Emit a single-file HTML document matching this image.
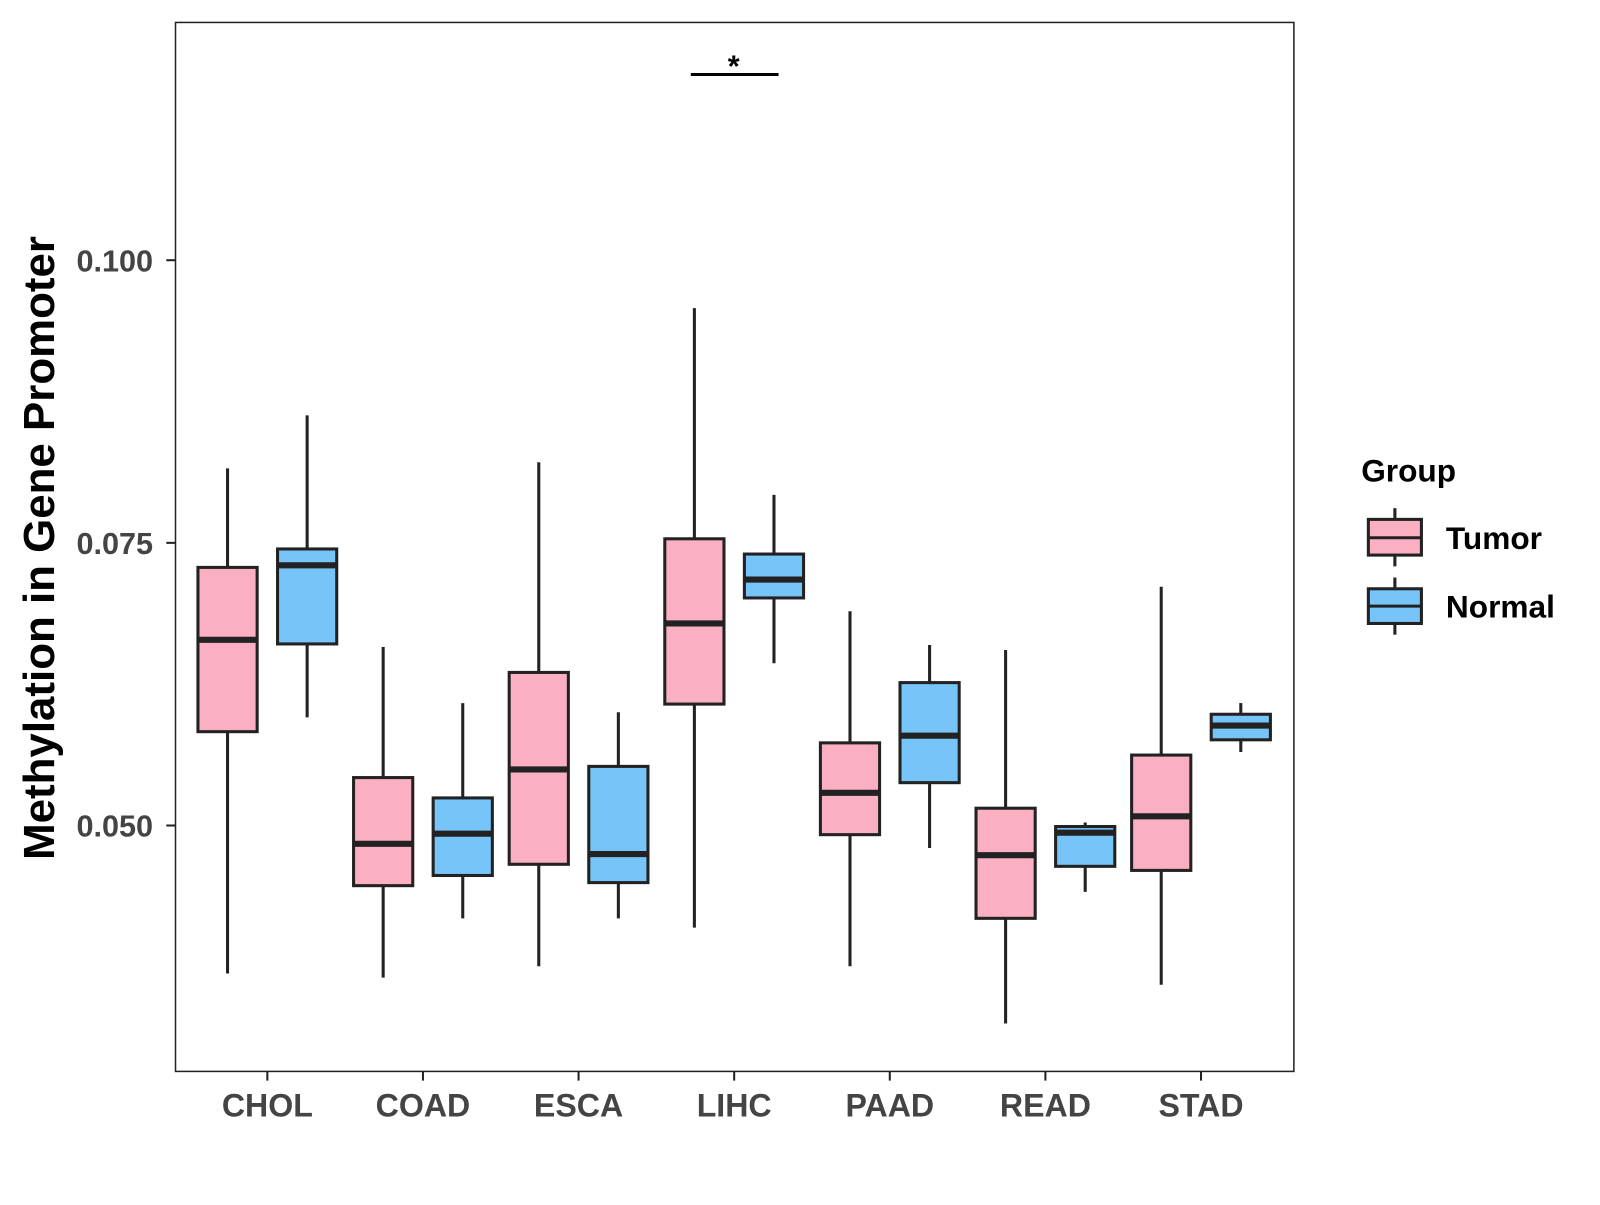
<!DOCTYPE html>
<html><head><meta charset="utf-8"><style>
body{margin:0;background:#fff}
svg text{font-family:"Liberation Sans",Arial,sans-serif;font-weight:bold}
</style></head><body>
<svg id="chart" width="1600" height="1200" xmlns="http://www.w3.org/2000/svg">
<rect x="0" y="0" width="1600" height="1200" fill="#fff"/>
<g transform="scale(1.0204)">
<rect x="172" y="22" width="1096" height="1028" fill="none" stroke="#222" stroke-width="1.5"/>
<g id="boxes"></g>
<g id="axes"></g>
<text transform="translate(53,537) rotate(-90)" text-anchor="middle" font-size="43" fill="#000">Methylation in Gene Promoter</text>
<g>
<line x1="677" y1="73" x2="763" y2="73" stroke="#000" stroke-width="3"/>
<text x="719" y="75" text-anchor="middle" font-size="30" fill="#000">*</text>
</g>
<g>
<text x="1334" y="472" font-size="31" fill="#000">Group</text>
<g>
<line x1="1367" y1="498" x2="1367" y2="555" stroke="#222" stroke-width="3"/>
<rect x="1341" y="509" width="52" height="35" fill="#FAB0C2" stroke="#222" stroke-width="3"/>
<line x1="1341" y1="527" x2="1393" y2="527" stroke="#222" stroke-width="3"/>
<text x="1417" y="538" font-size="31" fill="#000">Tumor</text>
</g>
<g>
<line x1="1367" y1="566" x2="1367" y2="622" stroke="#222" stroke-width="3"/>
<rect x="1341" y="577" width="52" height="34" fill="#76C4F8" stroke="#222" stroke-width="3"/>
<line x1="1341" y1="594" x2="1393" y2="594" stroke="#222" stroke-width="3"/>
<text x="1417" y="605" font-size="31" fill="#000">Normal</text>
</g>
</g>
</g>
</svg>
<script>
const categories=["CHOL","COAD","ESCA","LIHC","PAAD","READ","STAD"];
// [low, q1, median, q3, high]
const tumorStats=[
[0.03691,0.05830,0.06643,0.07283,0.08159],
[0.03655,0.04468,0.04838,0.05424,0.06579],
[0.03755,0.04657,0.05496,0.06354,0.08213],
[0.04097,0.06074,0.06787,0.07536,0.09576],
[0.03755,0.04919,0.05289,0.05731,0.06895],
[0.03249,0.04179,0.04738,0.05153,0.06552],
[0.03592,0.04603,0.05081,0.05623,0.07112]];
const normalStats=[
[0.05957,0.06606,0.07301,0.07446,0.08628],
[0.04179,0.04558,0.04928,0.05244,0.06083],
[0.04179,0.04495,0.04747,0.05523,0.06002],
[0.06435,0.07013,0.07175,0.07401,0.07924],
[0.04801,0.05379,0.05794,0.06264,0.06597],
[0.04413,0.04639,0.04937,0.04991,0.05027],
[0.0565,0.05758,0.05884,0.05984,0.06083]];
const yTicks=[0.050,0.075,0.100];
const yTickLabels=["0.050","0.075","0.100"];
const yMin=0.02825,yMax=0.12103;
const NS="http://www.w3.org/2000/svg";
const py0=22,py1=1050,px0=172,px1=1268;
function yScale(v){return py1-(v-yMin)/(yMax-yMin)*(py1-py0);}
function xScale(i){return 262+i*152.5;}
function mk(tag,attrs,parent){const e=document.createElementNS(NS,tag);for(const k in attrs)e.setAttribute(k,attrs[k]);parent.appendChild(e);return e;}
const boxes=document.getElementById('boxes'),axes=document.getElementById('axes');
function drawBox(s,cx,fill,name){
  const g=mk('g',{},boxes);
  
  
  const w=58;
  mk('line',{x1:cx,x2:cx,y1:yScale(s[4]),y2:yScale(s[0]),stroke:'#222','stroke-width':3},g);
  mk('rect',{x:cx-w/2,y:yScale(s[3]),width:w,height:yScale(s[1])-yScale(s[3]),fill:fill,stroke:'#222','stroke-width':3},g);
  mk('line',{x1:cx-w/2,x2:cx+w/2,y1:yScale(s[2]),y2:yScale(s[2]),stroke:'#222','stroke-width':6},g);
}
categories.forEach((c,i)=>{
  drawBox(tumorStats[i],xScale(i)-39,'#FAB0C2','box-tumor-'+c.toLowerCase());
  drawBox(normalStats[i],xScale(i)+39,'#76C4F8','box-normal-'+c.toLowerCase());
  mk('line',{x1:xScale(i),x2:xScale(i),y1:py1,y2:py1+9,stroke:'#222','stroke-width':2},axes);
  const t=mk('text',{x:xScale(i),y:1094,'text-anchor':'middle','font-size':31.5,fill:'#444'},axes);
  
  
  t.textContent=c;
});
yTicks.forEach((v,i)=>{
  mk('line',{x1:px0-9,x2:px0,y1:yScale(v),y2:yScale(v),stroke:'#222','stroke-width':2},axes);
  const t=mk('text',{x:150,y:yScale(v)+11,'text-anchor':'end','font-size':30,fill:'#444'},axes);
  
  
  t.textContent=yTickLabels[i];
});
</script>
</body></html>
